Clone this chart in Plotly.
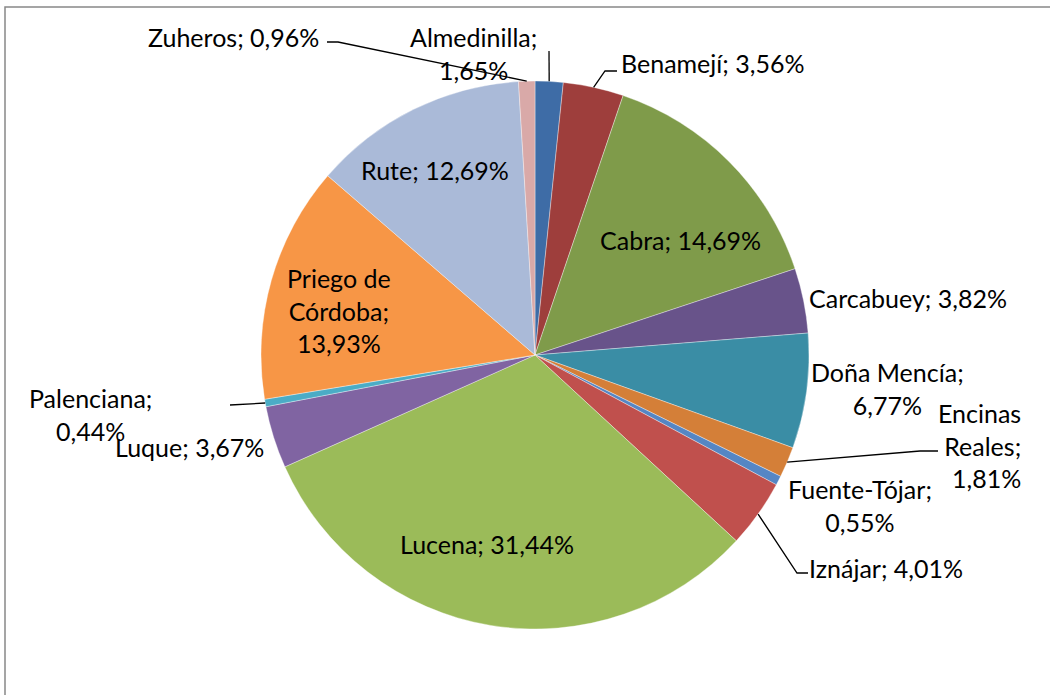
import math
import plotly.graph_objects as go

W, H = 1050, 695

municipios = ["Almedinilla", "Benamejí", "Cabra", "Carcabuey", "Doña Mencía",
              "Encinas Reales", "Fuente-Tójar", "Iznájar", "Lucena", "Luque",
              "Palenciana", "Priego de Córdoba", "Rute", "Zuheros"]
porcentajes = [1.65, 3.56, 14.69, 3.82, 6.77, 1.81, 0.55, 4.01, 31.44, 3.67,
               0.44, 13.93, 12.69, 0.96]
colores = ["#3E6CA6", "#9E3E3C", "#7F9B4A", "#68538A", "#3A8DA5", "#D47F38",
           "#5586C4", "#C0504D", "#9BBB59", "#8064A2", "#4BACC6", "#F79646",
           "#AABAD8", "#D9A9A8"]

label_text = {
    "Almedinilla": "Almedinilla;<br>1,65%",
    "Benamejí": "Benamejí; 3,56%",
    "Cabra": "Cabra; 14,69%",
    "Carcabuey": "Carcabuey; 3,82%",
    "Doña Mencía": "Doña Mencía;<br>6,77%",
    "Encinas Reales": "Encinas<br>Reales;<br>1,81%",
    "Fuente-Tójar": "Fuente-Tójar;<br>0,55%",
    "Iznájar": "Iznájar; 4,01%",
    "Lucena": "Lucena; 31,44%",
    "Luque": "Luque; 3,67%",
    "Palenciana": "Palenciana;<br>0,44%",
    "Priego de Córdoba": "Priego de<br>Córdoba;<br>13,93%",
    "Rute": "Rute; 12,69%",
    "Zuheros": "Zuheros; 0,96%",
}
# label layout: (x, y) pixel anchor point, x anchor, text alignment
label_pos = {
    "Almedinilla": (474, 53, "center", "center"),
    "Benamejí": (619, 63, "left", "left"),
    "Cabra": (680, 240, "center", "center"),
    "Carcabuey": (807, 298, "left", "left"),
    "Doña Mencía": (887, 388, "center", "center"),
    "Encinas Reales": (1023, 445, "right", "right"),
    "Fuente-Tójar": (860, 505, "center", "center"),
    "Iznájar": (807, 568, "left", "left"),
    "Lucena": (487, 544, "center", "center"),
    "Luque": (266, 447, "right", "right"),
    "Palenciana": (90, 414, "center", "center"),
    "Priego de Córdoba": (339, 310, "center", "center"),
    "Rute": (435, 170, "center", "center"),
    "Zuheros": (321, 37, "right", "right"),
}
leaders = {
    "Zuheros": [(338, 42), (327, 42)],
    "Almedinilla": [(549, 51)],
    "Benamejí": [(605, 71), (617, 71)],
    "Encinas Reales": [(920, 451), (938, 451)],
    "Iznájar": [(797, 573), (808, 573)],
    "Palenciana": [(230, 405)],
}

CX, CY, R = 535, 355, 274


def px(x):
    return x / W


def py(y):
    return 1 - y / H


fig = go.Figure(go.Pie(
    labels=municipios, values=porcentajes, sort=False, direction="clockwise",
    rotation=0, textinfo="none", hoverinfo="label+percent",
    marker=dict(colors=colores, line=dict(color="rgba(255,255,255,0.6)", width=0.6)),
    domain=dict(x=[px(CX - R), px(CX + R)], y=[py(CY + R), py(CY - R)]),
    showlegend=False,
))

total = sum(porcentajes)
cum = 0
mid = {}
for m, v in zip(municipios, porcentajes):
    a = (cum + v / 2) / total * 2 * math.pi
    mid[m] = (CX + R * math.sin(a), CY - R * math.cos(a))
    cum += v

shapes = []
for m, pts in leaders.items():
    p0 = mid[m]
    path = "M %f %f" % (px(p0[0]), py(p0[1]))
    for (x, y) in pts:
        path += " L %f %f" % (px(x), py(y))
    shapes.append(dict(type="path", path=path, xref="paper", yref="paper",
                       line=dict(color="black", width=1.3)))

shapes.append(dict(type="rect", xref="paper", yref="paper",
                   x0=px(5), x1=1.05, y0=-0.05, y1=py(7),
                   line=dict(color="#888888", width=1.5)))

annotations = []
for m in municipios:
    x, y, anchor, align = label_pos[m]
    annotations.append(dict(text=label_text[m], x=px(x), y=py(y), xref="paper", yref="paper",
                            xanchor=anchor, yanchor="middle", showarrow=False,
                            align=align, font=dict(family="Lato", size=25, color="black")))

fig.update_layout(
    width=W, height=H, margin=dict(l=0, r=0, t=0, b=0),
    paper_bgcolor="white", plot_bgcolor="white",
    shapes=shapes, annotations=annotations,
)

fig.write_html("out.html", config={"displayModeBar": False},
               post_script="document.body.style.margin='0';document.body.style.overflow='hidden';")
